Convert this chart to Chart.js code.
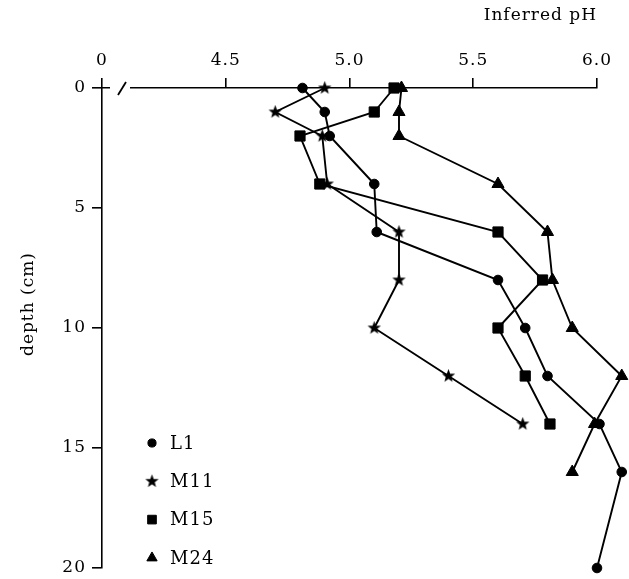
<!DOCTYPE html>
<html>
<head>
<meta charset="utf-8">
<script src="https://cdn.jsdelivr.net/npm/chart.js@4/dist/chart.umd.min.js"></script>
<style>
  html, body { margin: 0; padding: 0; background: #fff; }
  #wrap { width: 629px; height: 579px; position: relative; }
</style>
</head>
<body>
<div id="wrap"><canvas id="phChart"></canvas></div>
<script>
// depth (cm) and inferred pH
const seriesNames = ['L1', 'M11', 'M15', 'M24'];

const depthL1 = [0, 1, 2, 4, 6, 8, 10, 12, 14, 16, 20];
const phL1 = [4.81, 4.90, 4.92, 5.10, 5.11, 5.60, 5.71, 5.80, 6.01, 6.10, 6.00];

const depthM11 = [0, 1, 2, 4, 6, 8, 10, 12, 14];
const phM11 = [4.90, 4.70, 4.89, 4.91, 5.20, 5.20, 5.10, 5.40, 5.70];

const depthM15 = [0, 1, 2, 4, 6, 8, 10, 12, 14];
const phM15 = [5.18, 5.10, 4.80, 4.88, 5.60, 5.78, 5.60, 5.71, 5.81];

const depthM24 = [0, 1, 2, 4, 6, 8, 10, 12, 14, 16];
const phM24 = [5.21, 5.20, 5.20, 5.60, 5.80, 5.82, 5.90, 6.10, 5.99, 5.90];

// x axis: 4.0 is shown as "0" (axis break)
const phTicks = [4.0, 4.5, 5.0, 5.5, 6.0];
const phTickLabels = ['0', '4.5', '5.0', '5.5', '6.0'];
const depthTicks = [0, 5, 10, 15, 20];

const FONT = "'DejaVu Serif', 'Liberation Serif', serif";

function makeStar(size, outer, inner) {
  const c = document.createElement('canvas');
  c.width = size;
  c.height = size;
  const g = c.getContext('2d');
  const cx = size / 2, cy = size / 2;
  g.beginPath();
  for (let i = 0; i < 10; i++) {
    const r = i % 2 === 0 ? outer : inner;
    const a = -Math.PI / 2 + i * Math.PI / 5;
    const px = cx + r * Math.cos(a);
    const py = cy + r * Math.sin(a);
    if (i === 0) g.moveTo(px, py); else g.lineTo(px, py);
  }
  g.closePath();
  g.fillStyle = '#000';
  g.fill();
  return c;
}

const starImg = makeStar(15, 7, 2.9);

function toPoints(xs, ys) {
  return xs.map((d, i) => ({x: ys[i], y: d}));
}

const styles = [
  {pointStyle: 'circle', radius: 4.8},
  {pointStyle: starImg, radius: 7},
  {pointStyle: 'rect', radius: 7.2},
  {pointStyle: 'triangle', radius: 7}
];

const datasets = [
  toPoints(depthL1, phL1),
  toPoints(depthM11, phM11),
  toPoints(depthM15, phM15),
  toPoints(depthM24, phM24)
].map((pts, i) => ({
  label: seriesNames[i],
  data: pts,
  showLine: true,
  borderColor: '#000',
  borderWidth: 1.9,
  backgroundColor: '#000',
  pointBackgroundColor: '#000',
  pointBorderColor: '#000',
  pointBorderWidth: 1,
  pointStyle: styles[i].pointStyle,
  pointRadius: styles[i].radius,
  pointHoverRadius: styles[i].radius,
  tension: 0,
  clip: false
}));

// wider letter spacing, closer to the printed typeface
const spacing = {
  id: 'spacing',
  beforeDraw(chart) {
    chart.ctx.letterSpacing = '1px';
  }
};

// some points sit right of pH 6.0, let them be drawn
const widenArea = {
  id: 'widenArea',
  beforeDatasetsDraw(chart) {
    chart._keptArea = Object.assign({}, chart.chartArea);
    chart.chartArea.left = 0;
    chart.chartArea.top = 0;
    chart.chartArea.right = chart.width;
    chart.chartArea.bottom = chart.height;
  },
  afterDatasetsDraw(chart) {
    Object.assign(chart.chartArea, chart._keptArea);
  }
};

// axis break mark, y title and hand placed legend
const extras = {
  id: 'extras',
  afterDraw(chart) {
    const ctx = chart.ctx;
    const xs = chart.scales.x;
    const y0 = xs.bottom;
    const left = chart.chartArea.left;
    ctx.save();
    ctx.fillStyle = '#fff';
    ctx.fillRect(left + 8, y0 - 4, 20, 8);
    ctx.strokeStyle = '#000';
    ctx.lineWidth = 1.8;
    ctx.beginPath();
    ctx.moveTo(left + 16, y0 + 7);
    ctx.lineTo(left + 24, y0 - 6);
    ctx.stroke();
    ctx.restore();

    // y axis title
    ctx.save();
    ctx.fillStyle = '#000';
    ctx.font = '17px ' + FONT;
    ctx.textAlign = 'center';
    ctx.textBaseline = 'middle';
    ctx.translate(29, 304);
    ctx.rotate(-Math.PI / 2);
    ctx.fillText('depth (cm)', 0, 0);
    ctx.restore();

    // legend
    ctx.save();
    ctx.fillStyle = '#000';
    ctx.strokeStyle = '#000';
    ctx.lineWidth = 1;
    ctx.font = '18px ' + FONT;
    ctx.textBaseline = 'middle';
    ctx.textAlign = 'left';
    chart.data.datasets.forEach((ds, i) => {
      const mx = 152, my = 443 + i * 38.3;
      const st = ds.pointStyle;
      if (st instanceof HTMLCanvasElement) {
        ctx.drawImage(st, mx - st.width / 2, my - st.height / 2);
      } else {
        Chart.helpers.drawPoint(ctx, {pointStyle: st, radius: ds.pointRadius * 0.85, rotation: 0, borderWidth: 1}, mx, my);
      }
      ctx.fillText(ds.label, 170, my + 1);
    });
    ctx.restore();
  }
};

new Chart(document.getElementById('phChart'), {
  type: 'scatter',
  data: {datasets: datasets},
  options: {
    responsive: true,
    maintainAspectRatio: false,
    animation: false,
    layout: {padding: {top: 0, left: 0, right: 32, bottom: 11}},
    plugins: {
      legend: {display: false},
      tooltip: {enabled: false}
    },
    scales: {
      x: {
        type: 'linear',
        position: 'top',
        min: 4,
        max: 6,
        afterFit(s) {
          s.height = 88;
          s.paddingLeft = 0;
          s.paddingRight = 0;
        },
        afterBuildTicks(s) { s.ticks = phTicks.map(v => ({value: v})); },
        ticks: {
          callback: (v) => phTickLabels[phTicks.indexOf(v)],
          color: '#000',
          font: {family: FONT, size: 17},
          padding: 7,
          maxRotation: 0
        },
        grid: {display: true, drawOnChartArea: false, drawTicks: true, tickLength: 10, color: '#000', lineWidth: 1.6},
        border: {display: true, color: '#000', width: 1.6},
        title: {
          display: true,
          text: 'Inferred pH',
          align: 'end',
          color: '#000',
          font: {family: FONT, size: 17},
          padding: {top: 5, bottom: 0}
        }
      },
      y: {
        type: 'linear',
        position: 'left',
        reverse: true,
        min: 0,
        max: 20,
        afterFit(s) {
          s.width = 102;
          s.paddingTop = 0;
          s.paddingBottom = 0;
        },
        afterBuildTicks(s) { s.ticks = depthTicks.map(v => ({value: v})); },
        ticks: {
          color: '#000',
          font: {family: FONT, size: 17},
          padding: 6
        },
        grid: {display: true, drawOnChartArea: false, drawTicks: true, tickLength: 10, color: '#000', lineWidth: 1.6},
        border: {display: true, color: '#000', width: 1.6},
        title: {display: false}
      }
    }
  },
  plugins: [spacing, widenArea, extras]
});
</script>
</body>
</html>
